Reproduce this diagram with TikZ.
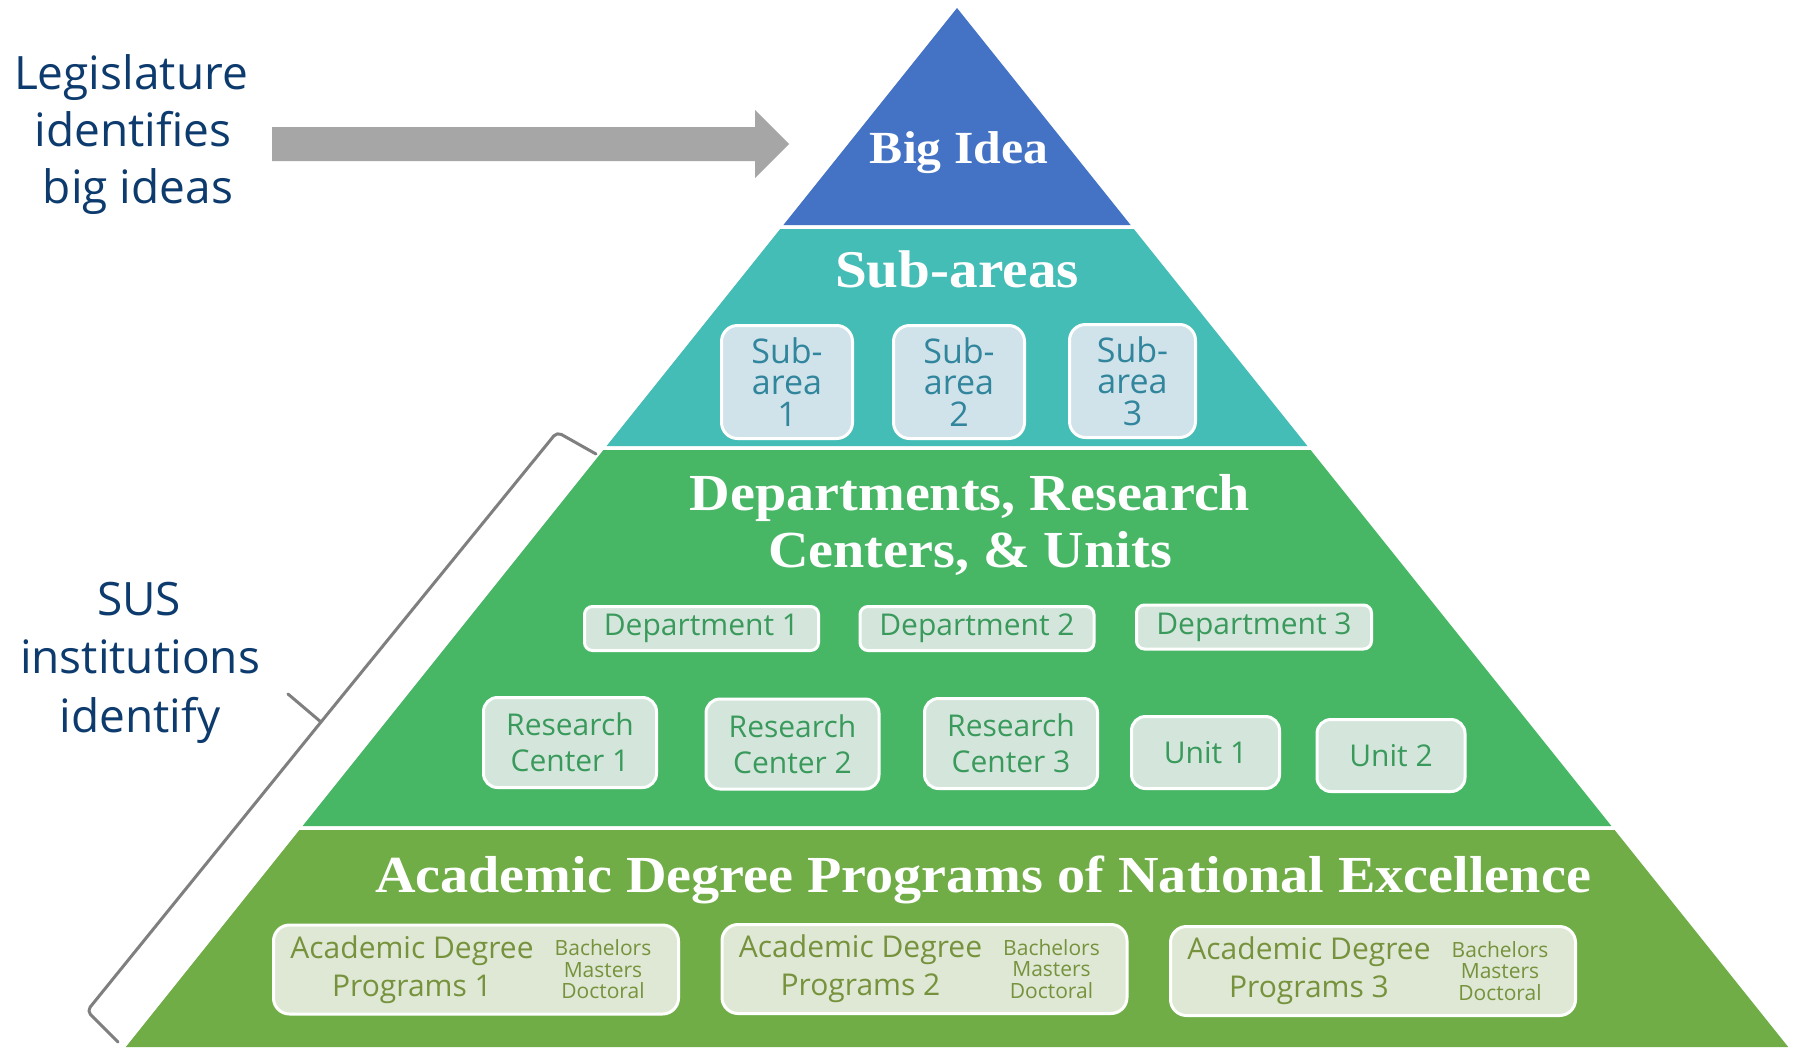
\documentclass[tikz,border=0pt]{standalone}
\usepackage{fontspec}
\setmainfont{Open Sans}
\newfontfamily\titlefont[FakeStretch=1.08]{Liberation Serif}
\usetikzlibrary{calc}
\definecolor{cBlue}{HTML}{4472C4}
\definecolor{cTeal}{HTML}{45BDB7}
\definecolor{cGreen}{HTML}{47B766}
\definecolor{cOlive}{HTML}{70AD47}
\definecolor{cNavy}{HTML}{0D3B6E}
\definecolor{cArrow}{HTML}{A6A6A6}
\definecolor{cBrace}{HTML}{7F7F7F}
\definecolor{subFill}{HTML}{D0E3EA}
\definecolor{subText}{HTML}{31859C}
\definecolor{deptFill}{HTML}{D4E6DC}
\definecolor{deptText}{HTML}{3A9A5C}
\definecolor{acadFill}{HTML}{DFE8D4}
\definecolor{acadText}{HTML}{76923C}
\begin{document}
\begin{tikzpicture}[x=1pt,y=-1pt,
  sidetext/.style={anchor=base, text=cNavy, font=\fontsize{46}{57}\selectfont, inner sep=0pt},
  bandtitle/.style={anchor=base, text=white, inner sep=0pt},
  boxbase/.style={draw=white, line width=3pt, align=center, inner sep=0pt},
  subbox/.style={boxbase, fill=subFill, text=subText, rounded corners=16pt, minimum width=131, minimum height=113, font=\fontsize{34}{31.5}\selectfont},
  deptbox/.style={boxbase, fill=deptFill, text=deptText, rounded corners=8pt, minimum height=44, font=\fontsize{30}{36}\selectfont},
  rcbox/.style={deptbox, rounded corners=14pt, minimum width=173, minimum height=90},
  unitbox/.style={deptbox, rounded corners=14pt, minimum width=148, minimum height=72},
  acadbox/.style={boxbase, fill=acadFill, rounded corners=16pt, minimum width=405, minimum height=89},
  acadmain/.style={text=acadText, align=center, font=\fontsize{30}{38}\selectfont, inner sep=0pt},
  acadlevels/.style={text=acadText, align=center, font=\fontsize{21}{21.5}\selectfont, inner sep=0pt},
  bracket/.style={draw=cBrace, line width=3pt, rounded corners=5pt, line cap=round, line join=round}
]
\useasboundingbox (0,0) rectangle (1794,1047);
\fill[white] (0,0) rectangle (1794,1047);

% pyramid bands
\fill[cBlue] (957,8) -- (1130.6,225) -- (783.4,225) -- cycle;
\fill[cTeal] (780.2,229) -- (1133.8,229) -- (1307.4,446) -- (606.6,446) -- cycle;
\fill[cGreen] (603.4,450) -- (1310.6,450) -- (1611.4,826) -- (302.6,826) -- cycle;
\fill[cOlive] (299.4,830) -- (1614.6,830) -- (1788.2,1047) -- (125.8,1047) -- cycle;

% block arrow
\fill[cArrow] (272,127) -- (755,127) -- (755,110) -- (789,144) -- (755,178) -- (755,161) -- (272,161) -- cycle;

% bracket
\draw[bracket] (596,454) -- (557,432) -- (321,722) -- (87,1011) -- (118,1042);
\draw[bracket] (321,722) -- (288,694);

% left texts
\node[sidetext] (l1) at (131,89) {Legislature};
\node[sidetext] (l2) at (133,146) {identifies};
\node[sidetext] (l3) at (138,203) {big ideas};
\node[sidetext] (s1) at (139,615) {SUS};
\node[sidetext] (s2) at (140,673) {institutions};
\node[sidetext] (s3) at (140,732) {identify};

% band titles
\node[bandtitle, font=\titlefont\bfseries\fontsize{46}{50}\selectfont] (tBig) at (959,163) {Big Idea};
\node[bandtitle, font=\titlefont\bfseries\fontsize{53}{57}\selectfont] (tSub) at (957,287) {Sub-areas};
\node[bandtitle, font=\titlefont\bfseries\fontsize{52}{57}\selectfont] (tDep1) at (970,510) {Departments, Research};
\node[bandtitle, font=\titlefont\bfseries\fontsize{52}{57}\selectfont] (tDep2) at (970,567) {Centers, \& Units};
\node[bandtitle, font=\titlefont\bfseries\fontsize{52}{57}\selectfont] (tAcad) at (983,892) {Academic Degree Programs of National Excellence};

% sub-area boxes
\node[subbox] (sa1) at (787,382) {Sub-\\area\\1};
\node[subbox] (sa2) at (959,382) {Sub-\\area\\2};
\node[subbox, minimum width=126] (sa3) at (1132.5,381) {Sub-\\area\\3};

% department boxes
\node[deptbox, minimum width=234] (d1) at (701.5,628.5) {Department 1};
\node[deptbox, minimum width=234] (d2) at (977,628.5) {Department 2};
\node[deptbox, minimum width=235] (d3) at (1254,627) {Department 3};

\node[rcbox] (rc1) at (570,742.5) {Research\\Center 1};
\node[rcbox] (rc2) at (792.5,744) {Research\\Center 2};
\node[rcbox] (rc3) at (1011,743.5) {Research\\Center 3};
\node[unitbox] (u1) at (1205.5,752.5) {Unit 1};
\node[unitbox] (u2) at (1391,755.5) {Unit 2};

% academic boxes
\node[acadbox] (a1) at (476,969.5) {};
\node[acadmain] (a1m) at ($(a1.center)+(-64,0)$) {Academic Degree\\Programs 1};
\node[acadlevels] (a1l) at ($(a1.center)+(127,0)$) {Bachelors\\Masters\\Doctoral};
\node[acadbox] (a2) at (924.5,969) {};
\node[acadmain] (a2m) at ($(a2.center)+(-64,0)$) {Academic Degree\\Programs 2};
\node[acadlevels] (a2l) at ($(a2.center)+(127,0)$) {Bachelors\\Masters\\Doctoral};
\node[acadbox] (a3) at (1373,971) {};
\node[acadmain] (a3m) at ($(a3.center)+(-64,0)$) {Academic Degree\\Programs 3};
\node[acadlevels] (a3l) at ($(a3.center)+(127,0)$) {Bachelors\\Masters\\Doctoral};
\end{tikzpicture}
\end{document}
